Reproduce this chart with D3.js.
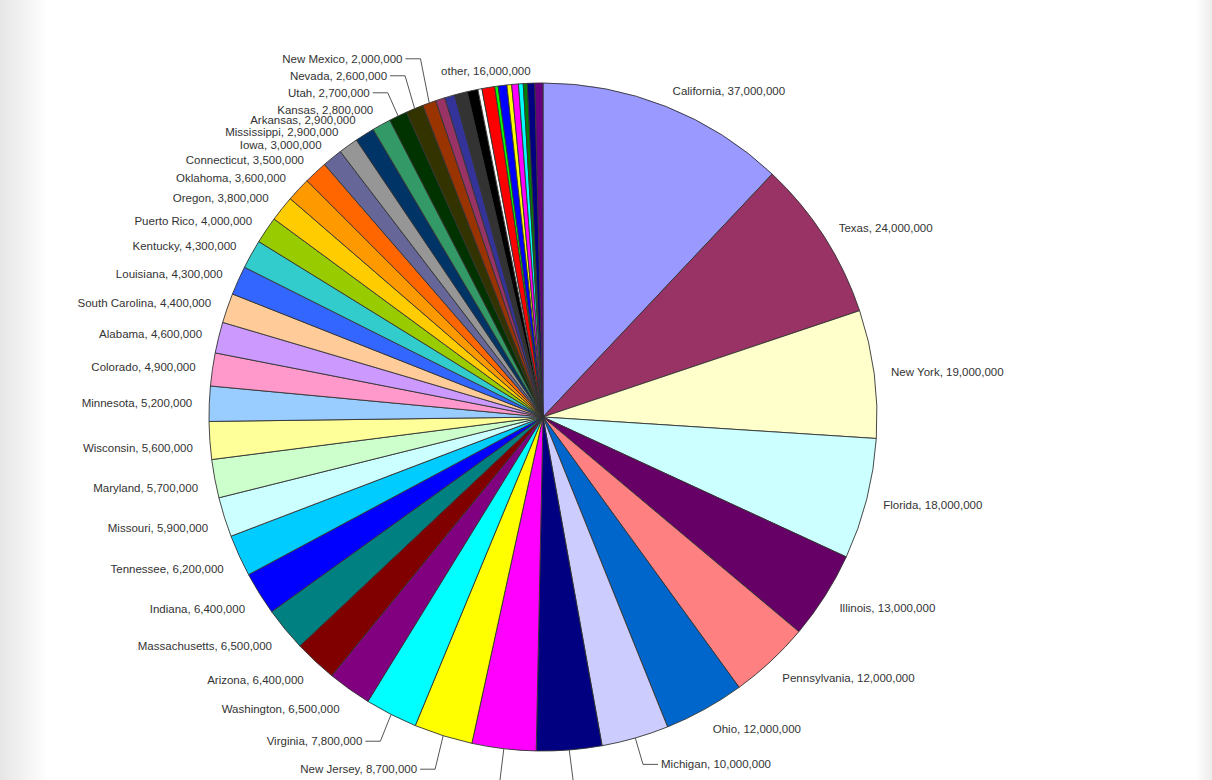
<!DOCTYPE html>
<html><head><meta charset="utf-8">
<script src="https://cdn.jsdelivr.net/npm/d3@7"></script>
<style>body{margin:0;background:#fff;}svg{display:block;}</style>
</head><body>
<svg id="chart" width="1212" height="780"></svg>
<script>
// Labelled slices (clockwise from 12 o'clock)
const states = ["California","Texas","New York","Florida","Illinois","Pennsylvania","Ohio","Michigan",
  "Georgia","North Carolina","New Jersey","Virginia","Washington","Arizona","Massachusetts","Indiana",
  "Tennessee","Missouri","Maryland","Wisconsin","Minnesota","Colorado","Alabama","South Carolina",
  "Louisiana","Kentucky","Puerto Rico","Oregon","Oklahoma","Connecticut","Iowa","Mississippi",
  "Arkansas","Kansas","Utah","Nevada","New Mexico"];
const populations = [37000000,24000000,19000000,18000000,13000000,12000000,12000000,10000000,
  9700000,9500000,8700000,7800000,6500000,6400000,6500000,6400000,
  6200000,5900000,5700000,5600000,5200000,4900000,4600000,4400000,
  4300000,4300000,4000000,3800000,3600000,3500000,3000000,2900000,
  2900000,2800000,2700000,2600000,2000000];
const stateColors = ["#9999FF","#993366","#FFFFCC","#CCFFFF","#660066","#FF8080","#0066CC","#CCCCFF",
  "#000080","#FF00FF","#FFFF00","#00FFFF","#800080","#800000","#008080","#0000FF",
  "#00CCFF","#CCFFFF","#CCFFCC","#FFFF99","#99CCFF","#FF99CC","#CC99FF","#FFCC99",
  "#3366FF","#33CCCC","#99CC00","#FFCC00","#FF9900","#FF6600","#666699","#969696",
  "#003366","#339966","#003300","#333300","#993300"];

// Small unlabelled slices, summarised by the "other" label
const otherLabel = "other";
const otherStates = ["West Virginia","Nebraska","Idaho","Hawaii","Wyoming","Maine","North Dakota",
  "New Hampshire","Vermont","Rhode Island","Alaska","South Dakota","Montana","Delaware"];
const otherValues = [1400000,1500000,1900000,1600000,600000,1900000,500000,
  1300000,700000,1000000,700000,600000,1100000,1200000];
const otherColors = ["#993366","#333399","#333333","#000000","#FFFFFF","#FF0000","#00FF00",
  "#0000FF","#FFFF00","#FF00FF","#00FFFF","#008000","#000080","#660080"];

const W = 1212, H = 780, cx = 543, cy = 417, R = 334, Rl = 351;
const svg = d3.select("#chart");
const fmt = d3.format(",");

// page background edges
const defs = svg.append("defs");
const gl = defs.append("linearGradient").attr("id","gl").attr("x1","0").attr("x2","1");
gl.append("stop").attr("offset","0").attr("stop-color","#e6e6e6");
gl.append("stop").attr("offset","1").attr("stop-color","#ffffff");
const gr = defs.append("linearGradient").attr("id","gr").attr("x1","0").attr("x2","1");
gr.append("stop").attr("offset","0").attr("stop-color","#ffffff");
gr.append("stop").attr("offset","1").attr("stop-color","#ececec");
svg.append("rect").attr("width",W).attr("height",H).attr("fill","#fff");
svg.append("rect").attr("x",0).attr("width",48).attr("height",H).attr("fill","url(#gl)");
svg.append("rect").attr("x",W-16).attr("width",16).attr("height",H).attr("fill","url(#gr)");

const data = states.map((s,i)=>({name:s, value:populations[i], color:stateColors[i], labelled:true}))
  .concat(otherStates.map((s,i)=>({name:s, value:otherValues[i], color:otherColors[i], labelled:false})));

const pie = d3.pie().sort(null).value(d=>d.value).startAngle(0).endAngle(2*Math.PI);
const arcs = pie(data);
const arc = d3.arc().innerRadius(0).outerRadius(R);

const g = svg.append("g").attr("transform",`translate(${cx},${cy})`);
g.selectAll("path").data(arcs).join("path")
  .attr("d",arc).attr("fill",d=>d.data.color)
  .attr("stroke","#333").attr("stroke-width",0.9).attr("stroke-linejoin","round");

const pt = (r,a)=>[cx + r*Math.sin(a), cy - r*Math.cos(a)];

// label layout
const labels = arcs.filter(a=>a.data.labelled).map(a=>{
  const m = (a.startAngle + a.endAngle)/2;
  const [ax, ay] = pt(Rl, m);
  const dir = Math.sin(m) >= 0 ? 1 : -1;
  const c = Math.cos(m);
  // lower-half labels hang slightly below their anchor
  const ly = c < 0 ? ay + (dir < 0 ? 6 : -6*c) : ay;
  return {text:`${a.data.name}, ${fmt(a.data.value)}`, m, ax, ay, ly, dir, leader:false};
});
// labels near the bottom are pushed outwards with leader lines
labels.forEach(l=>{
  const deg = l.m*180/Math.PI;
  if (deg > 155 && deg < 210) {
    l.leader = true;
    l.ly = l.ay + 36*(1-Math.abs(Math.sin(l.m))) - 8 - (l.dir > 0 ? 8 : 0);
  }
});
// crowded upper-left labels are stacked upwards
const ul = labels.filter(l=>l.dir<0 && Math.cos(l.m)>0).sort((a,b)=>a.m-b.m);
let lastY = Infinity;
ul.forEach(l=>{
  if (l.ay > lastY - 9.7) { l.ly = lastY - 17; l.leader = true; }
  lastY = l.ly;
});

const lg = svg.append("g");
labels.forEach(l=>{
  let tx = l.ax;
  if (l.leader) {
    const [rx, ry] = pt(R, l.m);
    const c1 = l.ax + 3*l.dir, c2 = l.ax + 18*l.dir;
    lg.append("polyline")
      .attr("points",`${rx},${ry} ${c1},${l.ly} ${c2},${l.ly}`)
      .attr("fill","none").attr("stroke","#555").attr("stroke-width",1);
    tx = l.ax + 21*l.dir;
  }
  // labels that fall below the visible page are not shown (as in the reference)
  if (l.ly > H - 8) return;
  lg.append("text").attr("x",tx).attr("y",l.ly).attr("dy","0.35em")
    .attr("text-anchor", l.dir>0 ? "start" : "end")
    .attr("font-family","'Liberation Sans', Arial, sans-serif")
    .attr("font-size","11.5px").attr("fill","#333")
    .text(l.text);
});

// "other" summary label above the group of small slices
const small = arcs.filter(a=>!a.data.labelled);
const om = (small[0].startAngle + small[small.length-1].endAngle)/2;
const [ox, oy] = pt(Rl, om);
lg.append("text").attr("x",ox).attr("y",oy).attr("dy","0.35em")
  .attr("text-anchor","middle")
  .attr("font-family","'Liberation Sans', Arial, sans-serif")
  .attr("font-size","11.5px").attr("fill","#333")
  .text(`${otherLabel}, ${fmt(d3.sum(otherValues))}`);
</script>
</body></html>
